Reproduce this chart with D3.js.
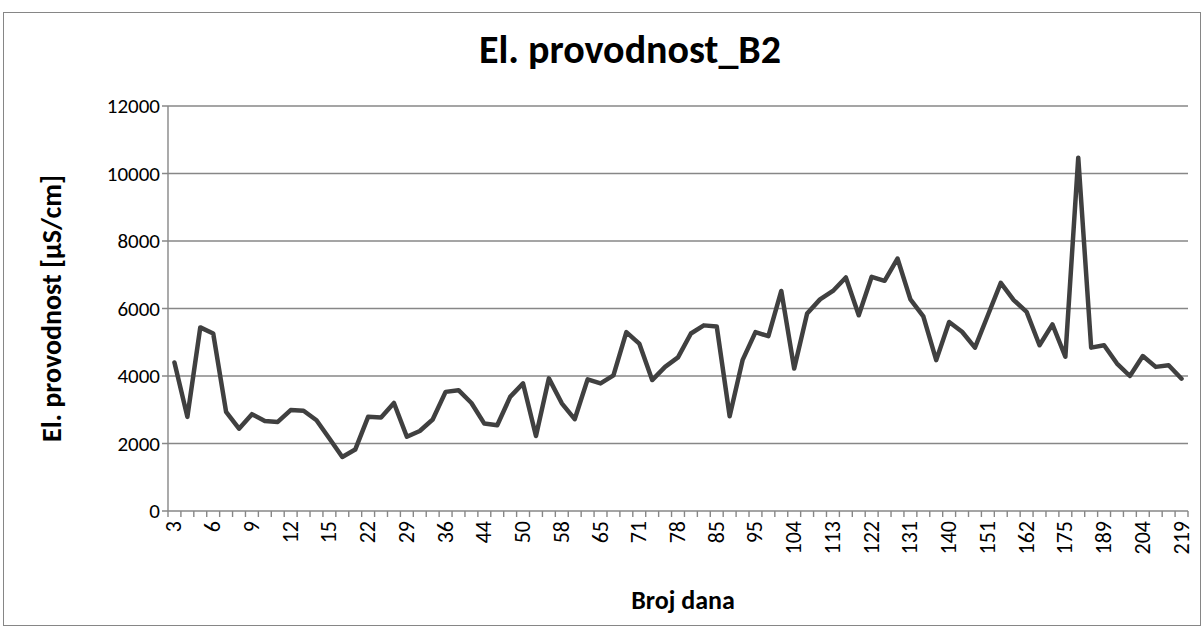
<!DOCTYPE html>
<html>
<head>
<meta charset="utf-8">
<script src="https://cdn.jsdelivr.net/npm/d3@7"></script>
<style>
  body { margin: 0; background: #fff; }
  svg text { font-family: Carlito, Calibri, Lato, sans-serif; fill: #000; }
</style>
</head>
<body>
<div id="chart"></div>
<script>
    // day numbers (x categories), only every 3rd is labelled on the axis
    let days = [3, 4, 5, 6, 7, 8, 9, 10, 11, 12, 13, 14, 15, 17, 20, 22, 24, 27, 29, 31,
        34, 36, 38, 42, 44, 46, 48, 50, 52, 56, 58, 61, 63, 65, 67, 69, 71, 73, 76, 78,
        80, 83, 85, 88, 92, 95, 98, 101, 104, 107, 110, 113, 116, 119, 122, 125, 128, 131, 134, 137,
        140, 143, 147, 151, 155, 158, 162, 166, 171, 175, 180, 185, 189, 194, 199, 204, 209, 214, 219]

    // conductivity values [µS/cm]
    let conductivity = [4400, 2790, 5440, 5260, 2940, 2440, 2870, 2670, 2640, 2990,
        2970, 2690, 2150, 1600, 1820, 2790, 2770, 3200, 2200, 2370,
        2710, 3530, 3580, 3200, 2590, 2540, 3380, 3780, 2220, 3930,
        3190, 2720, 3900, 3780, 4020, 5300, 4960, 3880, 4270, 4550,
        5260, 5500, 5470, 2810, 4470, 5300, 5180, 6520, 4220, 5850,
        6270, 6520, 6920, 5800, 6940, 6820, 7480, 6270, 5770, 4470,
        5600, 5310, 4840, 5800, 6760, 6250, 5900, 4910, 5530, 4570,
        10470, 4840, 4910, 4370, 4000, 4590, 4270, 4320, 3920]

    let yTicks = [0, 2000, 4000, 6000, 8000, 10000, 12000]

    let W = 1204, H = 628
    let margin = {top: 106, right: 16, bottom: 117, left: 168}
    let gridColor = "#878787"

    let svg = d3.select("#chart").append("svg")
        .attr("width", W)
        .attr("height", H)

    // chart border
    svg.append("rect")
        .attr("x", 3.5).attr("y", 12.5)
        .attr("width", 1197).attr("height", 613)
        .attr("fill", "#fff")
        .attr("stroke", "#868686")
        .attr("stroke-width", 1)

    let x = d3.scaleBand()
        .domain(days)
        .range([margin.left, W - margin.right])
        .paddingInner(0).paddingOuter(0)

    let y = d3.scaleLinear()
        .domain([0, 12000])
        .range([H - margin.bottom, margin.top])

    // horizontal gridlines + y tick marks
    svg.append("g")
        .selectAll("line")
        .data(yTicks)
        .join("line")
        .attr("x1", margin.left - 6)
        .attr("x2", W - margin.right)
        .attr("y1", d => y(d))
        .attr("y2", d => y(d))
        .attr("stroke", gridColor)
        .attr("stroke-width", 1.4)

    // y axis line
    svg.append("line")
        .attr("x1", margin.left).attr("x2", margin.left)
        .attr("y1", y(12000)).attr("y2", y(0))
        .attr("stroke", gridColor)
        .attr("stroke-width", 1.4)

    // y tick labels
    svg.append("g")
        .selectAll("text")
        .data(yTicks)
        .join("text")
        .attr("x", margin.left - 8)
        .attr("y", d => y(d) + 7)
        .attr("text-anchor", "end")
        .style("font-size", "21px")
        .text(d => d)

    // x tick marks at category boundaries
    let bounds = days.map(d => x(d)).concat([x.range()[1]])
    svg.append("g")
        .selectAll("line")
        .data(bounds)
        .join("line")
        .attr("x1", d => d).attr("x2", d => d)
        .attr("y1", y(0)).attr("y2", y(0) + 6)
        .attr("stroke", gridColor)
        .attr("stroke-width", 1.4)

    // x tick labels, rotated
    svg.append("g")
        .selectAll("text")
        .data(days.filter((d, i) => i % 3 === 0))
        .join("text")
        .attr("transform", d => "translate(" + (x(d) + x.bandwidth() / 2 + 7) + "," + (y(0) + 10) + ") rotate(-90)")
        .attr("text-anchor", "end")
        .style("font-size", "22px")
        .text(d => d)

    // the line
    let line = d3.line()
        .x((d, i) => x(days[i]) + x.bandwidth() / 2)
        .y(d => y(d))

    svg.append("path")
        .datum(conductivity)
        .attr("d", line)
        .attr("fill", "none")
        .attr("stroke", "#404040")
        .attr("stroke-width", 4.5)
        .attr("stroke-linejoin", "round")
        .attr("stroke-linecap", "round")

    // titles
    svg.append("text")
        .attr("x", 630).attr("y", 63)
        .attr("text-anchor", "middle")
        .style("font-size", "40px")
        .style("font-weight", "bold")
        .text("El. provodnost_B2")

    svg.append("text")
        .attr("x", (margin.left + W - margin.right) / 2 + 5).attr("y", 609)
        .attr("text-anchor", "middle")
        .style("font-size", "26px")
        .style("font-weight", "bold")
        .text("Broj dana")

    svg.append("text")
        .attr("transform", "translate(61," + (y(6000)) + ") rotate(-90)")
        .attr("text-anchor", "middle")
        .style("font-size", "28px")
        .style("font-weight", "bold")
        .text("El. provodnost [µS/cm]")
</script>
</body>
</html>
